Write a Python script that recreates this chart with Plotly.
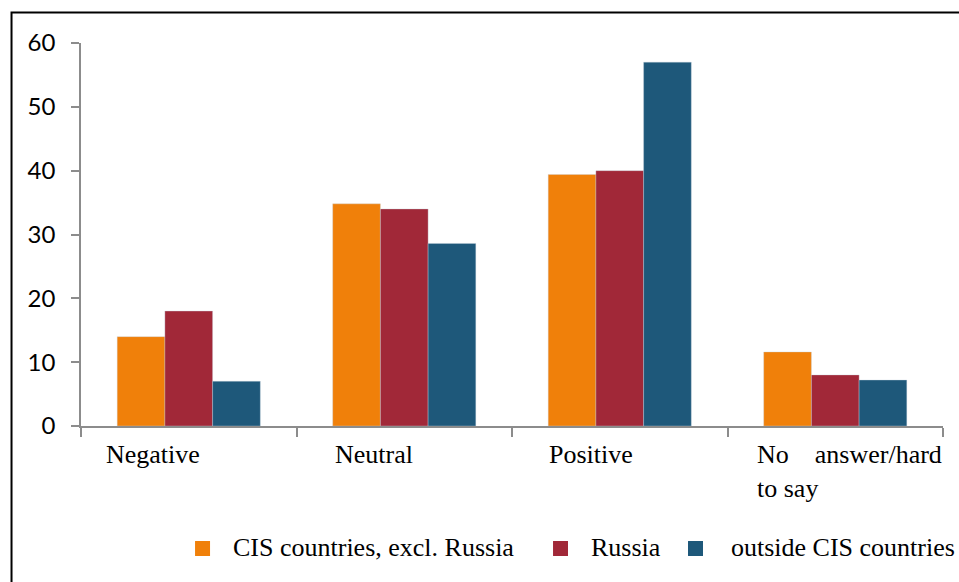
import plotly.graph_objects as go

# Survey answers by respondent group (%)
categories = ["Negative", "Neutral", "Positive", "No answer/hard to say"]
cis_excl_russia = [14, 34.8, 39.4, 11.6]
russia = [18, 34, 40, 8]
outside_cis = [7, 28.6, 57, 7.2]
series_names = ["CIS countries, excl. Russia", "Russia", "outside CIS countries"]
y_ticks = [0, 10, 20, 30, 40, 50, 60]

# Category captions drawn below the axis (last one is justified over two lines)
captions = ["Negative", "Neutral", "Positive", "No\u00a0\u00a0\u00a0\u00a0answer/hard<br>to say"]
caption_shift = [-85, -71, -73, -80]

colors = ["#F0800A", "#A12838", "#1E587A"]
serif = "Liberation Serif, Times New Roman, serif"
sans = "Lato, Open Sans, sans-serif"

fig = go.Figure()
for name, vals, col in zip(series_names, [cis_excl_russia, russia, outside_cis], colors):
    fig.add_trace(go.Bar(
        x=categories, y=vals, name=name, showlegend=False,
        marker=dict(color=col, line=dict(color="rgba(200,210,220,0.45)", width=0.8)),
    ))

for cat, text, dx in zip(categories, captions, caption_shift):
    fig.add_annotation(
        x=cat, xref="x", y=0, yref="paper", text=text, showarrow=False,
        xanchor="left", yanchor="top", align="left", xshift=dx, yshift=-12,
        font=dict(family=serif, size=26, color="black"),
    )

# legend row: coloured keys with series names
key_x = [0.1323, 0.5476, 0.7042]
key_w = 0.0174
label_x = [0.1740, 0.5893, 0.7517]
for name, col, kx, lx in zip(series_names, colors, key_x, label_x):
    fig.add_shape(type="rect", xref="paper", yref="paper",
                  x0=kx, x1=kx + key_w, y0=-0.3394, y1=-0.3003,
                  fillcolor=col, line=dict(width=0))
    fig.add_annotation(x=lx, xref="paper", y=-0.3185, yref="paper", text=name,
                       showarrow=False, xanchor="left", yanchor="middle",
                       font=dict(family=serif, size=26, color="black"))

# outer frame around the figure
fig.add_shape(type="rect", xref="paper", yref="paper",
              x0=-0.0806, x1=1.2, y0=-0.6, y1=1.0796,
              line=dict(color="black", width=2), layer="below")

fig.update_layout(
    width=959, height=582,
    margin=dict(l=81, r=16, t=43, b=156, autoexpand=False),
    paper_bgcolor="white", plot_bgcolor="white",
    barmode="group", bargap=0.336, bargroupgap=0,
    showlegend=False,
    xaxis=dict(range=[-0.5, len(categories) - 0.5], showticklabels=False, showline=True,
               linecolor="#8c8c8c", linewidth=1.5,
               ticks="outside", tickson="boundaries", ticklen=9, tickcolor="#8c8c8c",
               tickwidth=1.5, showgrid=False, zeroline=False, automargin=False),
    yaxis=dict(range=[0, 60], tickvals=y_ticks, showline=True, linecolor="#8c8c8c",
               linewidth=1.5, ticks="outside", ticklen=8, tickcolor="#8c8c8c", tickwidth=1.5,
               showgrid=False, zeroline=False, ticklabelstandoff=11, automargin=False,
               tickfont=dict(family=sans, size=24, color="black")),
)

fig.write_html("out.html")
